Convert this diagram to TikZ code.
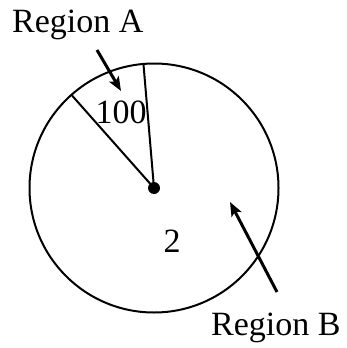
\documentclass[tikz,border=0pt]{standalone}
\usepackage{fontspec}
\setmainfont{Liberation Serif}
\usetikzlibrary{arrows.meta}
\begin{document}
\begin{tikzpicture}[x=1pt,y=-1pt,
  lbl/.style={font=\fontsize{34}{37}\selectfont, inner sep=0pt},
  edge/.style={line width=2pt},
  pointer/.style={line width=3pt, -{Stealth[length=14pt,width=11pt,inset=3pt]}}]
\useasboundingbox (0,0) rectangle (346,348);
\coordinate (c) at (154,188);
\coordinate (r1) at (143.5,64.5);
\coordinate (r2) at (72,95.5);
\draw[edge] (c) circle (124.5);
\draw[edge] (c) -- (r1);
\draw[edge] (c) -- (r2);
\fill (c) circle (6);
\node[lbl, anchor=base west] (ra) at (12,32) {Region A};
\node[lbl, anchor=base west] (rb) at (211,335) {Region B};
\node[lbl] (n100) at (121,112) {100};
\node[lbl] (n2) at (172,241) {2};
\coordinate (a1) at (97,50);
\coordinate (a2) at (121,91);
\coordinate (b1) at (277,292);
\coordinate (b2) at (230,202);
\draw[pointer] (a1) -- (a2);
\draw[pointer] (b1) -- (b2);
\end{tikzpicture}
\end{document}
